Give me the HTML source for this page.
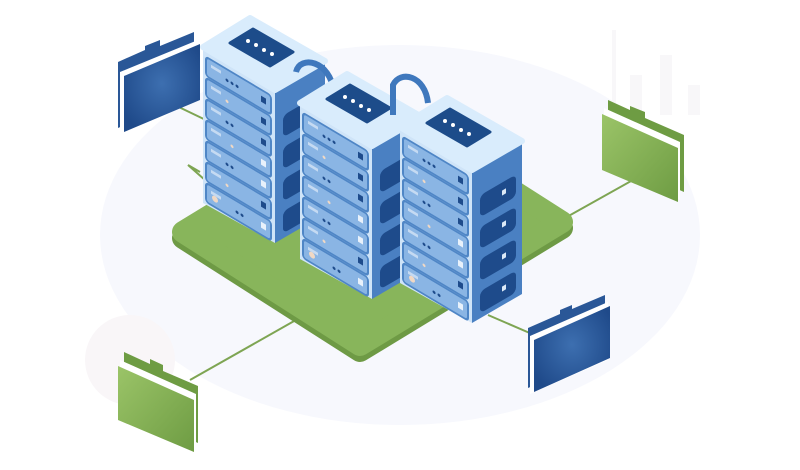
<!DOCTYPE html>
<html><head><meta charset="utf-8"><style>html,body{margin:0;padding:0;background:#fff}svg{display:block}</style></head>
<body>
<svg width="800" height="470" viewBox="0 0 800 470" xmlns="http://www.w3.org/2000/svg">
<defs>
<radialGradient id="bf" cx="50%" cy="45%" r="60%"><stop offset="0" stop-color="#3d6fb0"/><stop offset="1" stop-color="#1f4a8a"/></radialGradient>
<linearGradient id="gf" x1="0" y1="0" x2="1" y2="1"><stop offset="0" stop-color="#9bc468"/><stop offset="1" stop-color="#6e9c43"/></linearGradient>
<g id="tower">
  <polygon points="72,43 122,14 122,167 72,196" fill="#4a80c2"/>
  <g transform="matrix(1,-0.58,0,1,72,43)">
    <rect x="8" y="30" width="36" height="22" rx="5" fill="#1e4b8b"/>
    <rect x="8" y="62" width="36" height="22" rx="5" fill="#1e4b8b"/>
    <rect x="8" y="94" width="36" height="22" rx="5" fill="#1e4b8b"/>
    <rect x="8" y="126" width="36" height="22" rx="5" fill="#1e4b8b"/>
    <rect x="30" y="38" width="4" height="5" fill="#dce9f7"/><rect x="30" y="70" width="4" height="5" fill="#dce9f7"/>
    <rect x="30" y="102" width="4" height="5" fill="#dce9f7"/><rect x="30" y="134" width="4" height="5" fill="#dce9f7"/>
  </g>
  <polygon points="0,0 72,43 72,196 0,156" fill="#cfe4f8"/>
  <g transform="matrix(1,0.597,0,1,0,0)">
    <rect x="3" y="8" width="65" height="19" rx="3" fill="#8ab5e4" stroke="#4f86c6" stroke-width="2"/>
    <rect x="3" y="29" width="65" height="19" rx="3" fill="#8ab5e4" stroke="#4f86c6" stroke-width="2"/>
    <rect x="3" y="50" width="65" height="19" rx="3" fill="#8ab5e4" stroke="#4f86c6" stroke-width="2"/>
    <rect x="3" y="71" width="65" height="19" rx="3" fill="#8ab5e4" stroke="#4f86c6" stroke-width="2"/>
    <rect x="3" y="92" width="65" height="19" rx="3" fill="#8ab5e4" stroke="#4f86c6" stroke-width="2"/>
    <rect x="3" y="113" width="65" height="19" rx="3" fill="#8ab5e4" stroke="#4f86c6" stroke-width="2"/>
    <rect x="3" y="134" width="65" height="19" rx="3" fill="#8ab5e4" stroke="#4f86c6" stroke-width="2"/>
    <g fill="#1e4b8b">
      <rect x="58" y="14" width="5" height="6"/><rect x="58" y="35" width="5" height="6"/><rect x="58" y="56" width="5" height="6"/>
      <rect x="58" y="77" width="5" height="6" fill="#e8f1fb"/><rect x="58" y="98" width="5" height="6" fill="#e8f1fb"/>
      <rect x="58" y="119" width="5" height="6"/><rect x="58" y="140" width="5" height="6" fill="#e8f1fb"/>
    </g>
    <g fill="#c5daf2"><rect x="8" y="13" width="10" height="3"/><rect x="8" y="34" width="10" height="3"/><rect x="8" y="55" width="10" height="3"/><rect x="8" y="76" width="10" height="3"/><rect x="8" y="97" width="10" height="3"/><rect x="8" y="118" width="10" height="3"/><rect x="8" y="139" width="10" height="3"/></g>
    <g fill="#1e4b8b"><circle cx="24" cy="19" r="1.5"/><circle cx="29" cy="19" r="1.5"/><circle cx="34" cy="19" r="1.5"/><circle cx="24" cy="61" r="1.5"/><circle cx="29" cy="61" r="1.5"/><circle cx="24" cy="103" r="1.5"/><circle cx="29" cy="103" r="1.5"/><circle cx="34" cy="145" r="1.5"/><circle cx="39" cy="145" r="1.5"/></g>
    <g fill="#f0d8c4"><circle cx="24" cy="40" r="1.5"/><circle cx="29" cy="82" r="1.5"/><circle cx="24" cy="124" r="1.5"/><circle cx="12" cy="145" r="3"/></g>
  </g>
  <polygon points="0,0 47,-29 122,14 72,43" fill="#d9ecfc" stroke="#d9ecfc" stroke-width="6" stroke-linejoin="round"/>
  <polygon points="27,-4 50,-18 90,5 67,19" fill="#1d4c8a" stroke="#1d4c8a" stroke-width="3" stroke-linejoin="round"/>
  <g fill="#fff"><circle cx="45" cy="-6" r="2"/><circle cx="53" cy="-2" r="2"/><circle cx="61" cy="3" r="2"/><circle cx="69" cy="7" r="2"/></g>
</g>
</defs>
<rect width="800" height="470" fill="#fff"/>
<ellipse cx="400" cy="235" rx="300" ry="190" fill="#f7f8fd"/>
<circle cx="130" cy="360" r="45" fill="#f9f6f8"/>
<g fill="#f8f7f9"><rect x="612" y="30" width="4" height="90"/><rect x="630" y="75" width="12" height="40"/><rect x="660" y="55" width="12" height="60"/><rect x="688" y="85" width="12" height="30"/></g>
<g stroke="#7ea553" stroke-width="2" fill="none">
  <line x1="160" y1="98" x2="210" y2="122"/>
  <polyline points="200,172 188,165 205,180"/>
  <line x1="190" y1="380" x2="310" y2="312"/>
  <polyline points="520,195 565,218 640,176"/>
  <line x1="488" y1="315" x2="532" y2="334"/>
</g>
<polygon points="183,238 385,115 562,228 360,351" fill="#6e9a45" stroke="#6e9a45" stroke-width="22" stroke-linejoin="round"/>
<polygon points="183,232 385,109 562,222 360,345" fill="#88b55b" stroke="#88b55b" stroke-width="22" stroke-linejoin="round"/>
<use href="#tower" transform="translate(203,47)"/>
<path d="M296,72 C300,55 330,60 334,92" stroke="#3f78bd" stroke-width="6" fill="none"/>
<use href="#tower" transform="translate(300,103)"/>
<path d="M393,115 L393,85 C400,70 425,75 428,103" stroke="#3f78bd" stroke-width="6" fill="none"/>
<use href="#tower" transform="translate(400,127)"/>
<polygon points="118,62 145,50 145,46 160,40 160,46 194,32 194,95 118,128" fill="#2a5797"/>
<polygon points="120,72 198,40 198,100 120,132" fill="#fff"/>
<polygon points="124,76 200,44 200,100 124,132" fill="url(#bf)"/>
<polygon points="528,328 560,314 560,310 572,305 572,309 605,295 605,355 528,388" fill="#2a5797"/>
<polygon points="530,336 608,302 608,360 530,394" fill="#fff"/>
<polygon points="534,340 610,306 610,358 534,392" fill="url(#bf)"/>
<polygon points="608,100 630,110 630,106 645,112 645,118 684,135 684,192 608,158" fill="#6e9c43"/>
<polygon points="604,108 680,142 680,200 604,166" fill="#fff"/>
<polygon points="602,114 678,148 678,202 602,170" fill="url(#gf)"/>
<polygon points="124,352 150,364 150,359 163,365 163,371 198,386 198,443 124,410" fill="#6e9c43"/>
<polygon points="120,360 196,394 196,450 120,416" fill="#fff"/>
<polygon points="118,366 194,400 194,452 118,420" fill="url(#gf)"/>
</svg>
</body></html>
